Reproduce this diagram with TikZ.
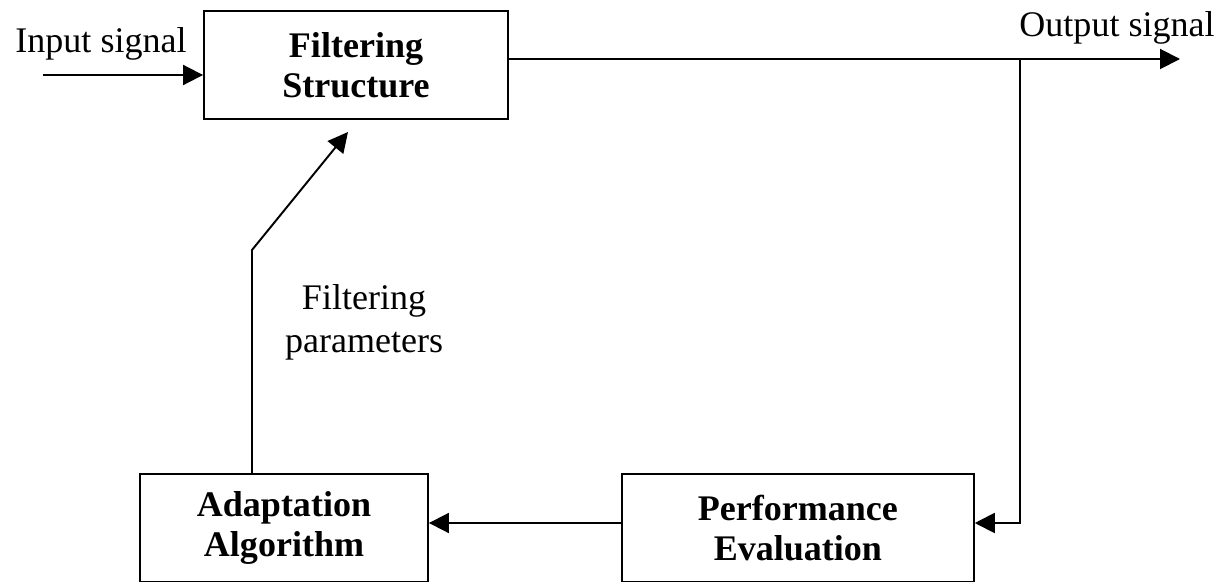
\documentclass[tikz,border=0pt]{standalone}
\usepackage{fontspec}
\setmainfont{Liberation Serif}
\usepackage{tikz}
\usetikzlibrary{arrows.meta, positioning}
\tikzset{
    block/.style={rectangle, draw=black, line width=1.1pt, fill=white,
                  minimum height=2.16cm, align=center, inner sep=0pt,
                  font=\fontsize{20.5}{23}\selectfont\bfseries},
    arrow/.style={-{Triangle[length=0.4cm, width=0.4cm]}, line width=1.1pt, draw=black},
    sigtext/.style={font=\fontsize{20.5}{24}\selectfont, inner sep=0pt},
}

\begin{document}
\begin{tikzpicture}[x=0.02cm, y=-0.02cm]
    \useasboundingbox (0,0) rectangle (1226,581);

    % Blocks
    \node[block, minimum width=6.08cm] (filt) at (356,65) {Filtering\\Structure};
    \node[block, minimum width=5.76cm] (adapt) at (284,528) {Adaptation\\Algorithm};
    \node[block, minimum width=7.04cm, right=3.84cm of adapt] (perf) {Performance\\Evaluation};

    % Labels
    \node[sigtext, anchor=base] (inlbl) at (101,53) {Input signal};
    \node[sigtext, anchor=base] (outlbl) at (1117,37) {Output signal};
    \node[sigtext, align=center, font=\fontsize{20.5}{24.5}\selectfont] (paramlbl) at (364,322) {Filtering\\parameters};

    % Path points
    \coordinate (insrc) at (43,75);
    \coordinate (outend) at (1180,59);
    \coordinate (tap) at (1020,59);
    \coordinate (fb) at (1020,523);
    \coordinate (bend) at (252,250);
    \coordinate (tip) at (348,132);

    % Arrows
    \draw[arrow] (insrc) -- (insrc -| filt.west);
    \draw[arrow] (filt.east |- outend) -- (outend);
    \draw[arrow] (tap) -- (fb) -- (fb -| perf.east);
    \draw[arrow] (fb -| perf.west) -- (fb -| adapt.east);
    \draw[arrow] (adapt.north -| bend) -- (bend) -- (tip);
\end{tikzpicture}
\end{document}
